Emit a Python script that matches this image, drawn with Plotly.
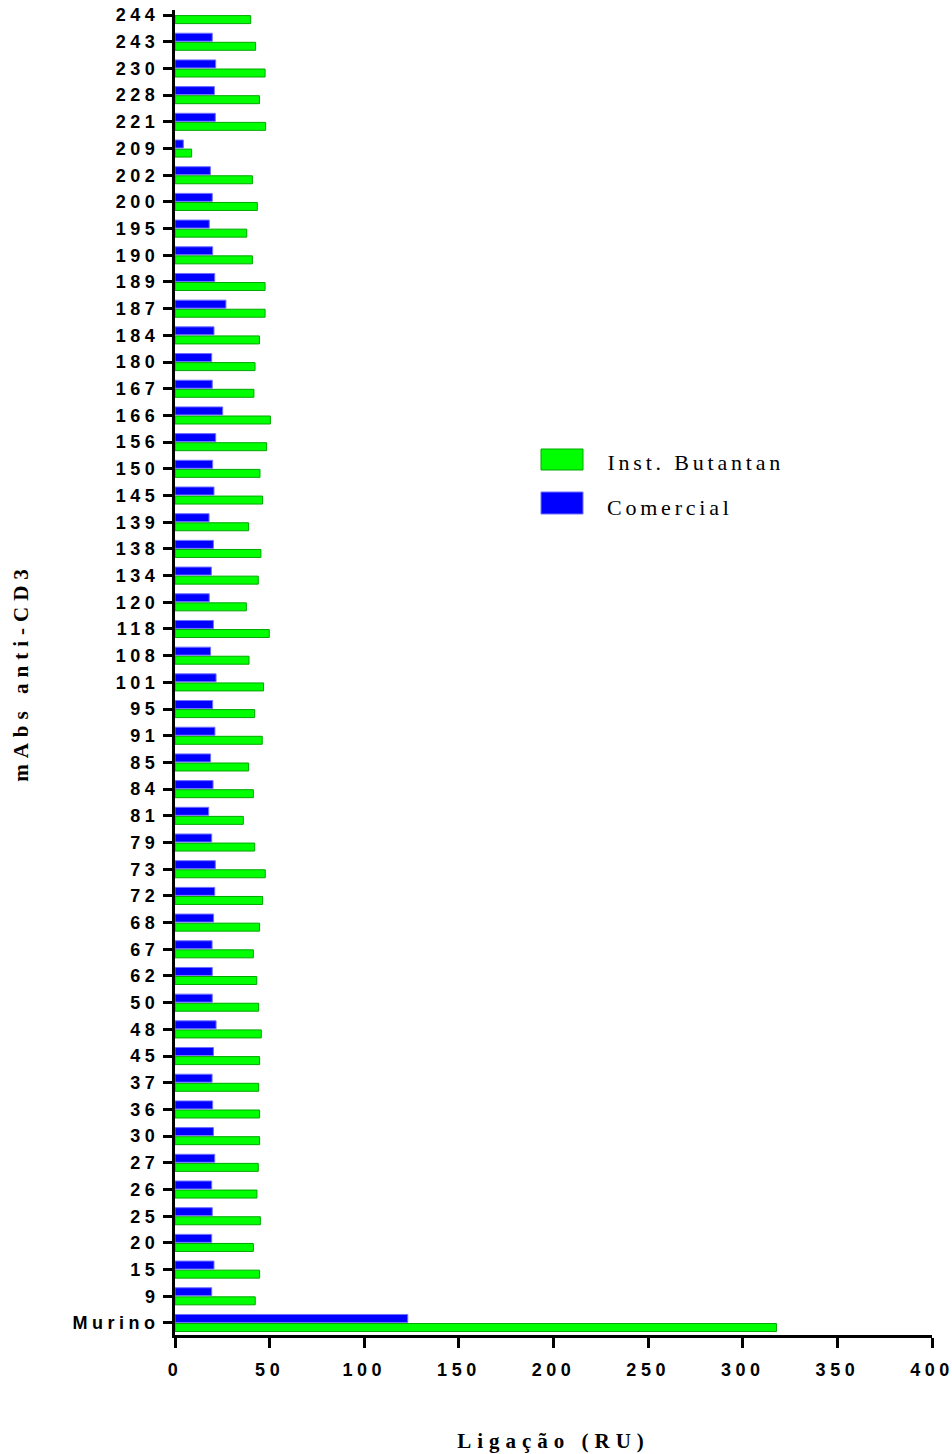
import json
import plotly.graph_objects as go

# mAbs anti-CD3 clones, bottom (Murino) to top
clones = ["Murino", "9", "15", "20", "25", "26", "27", "30", "36", "37", "45", "48", "50",
          "62", "67", "68", "72", "73", "79", "81", "84", "85", "91", "95", "101", "108",
          "118", "120", "134", "138", "139", "145", "150", "156", "166", "167", "180",
          "184", "187", "189", "190", "195", "200", "202", "209", "221", "228", "230",
          "243", "244"]

# Binding (RU) measured for each clone
butantan = [317.8, 42.4, 44.7, 41.4, 45.1, 43.3, 44.0, 44.7, 44.7, 44.2, 44.7, 45.6, 44.2,
            43.2, 41.4, 44.7, 46.3, 47.7, 42.1, 36.1, 41.4, 38.9, 46.1, 42.1, 46.8, 39.1,
            49.8, 37.7, 44.0, 45.4, 38.9, 46.3, 44.9, 48.4, 50.4, 41.7, 42.3,
            44.6, 47.6, 47.6, 40.9, 37.9, 43.5, 40.9, 8.8, 47.9, 44.6, 47.6,
            42.6, 40.0]
comercial = [123.0, 19.4, 20.6, 19.4, 19.7, 19.4, 21.0, 20.3, 19.9, 19.6, 20.3, 21.7, 19.7,
             19.7, 19.6, 20.4, 21.0, 21.3, 19.4, 17.8, 20.1, 18.8, 21.1, 19.9, 21.7, 18.8,
             20.3, 18.1, 19.2, 20.3, 18.0, 20.6, 19.9, 21.5, 25.2, 19.7, 19.4,
             20.6, 26.9, 21.0, 19.9, 18.1, 19.7, 18.7, 4.4, 21.3, 20.8, 21.5,
             19.7, None]

x_ticks = [0, 50, 100, 150, 200, 250, 300, 350, 400]
series_names = ["Inst. Butantan", "Comercial"]

GREEN, GREEN_EDGE = "#00FF00", "#00A800"
BLUE, BLUE_EDGE = "#0000FF", "#7070FF"

TICK_SPACING = 4.5   # letter-spacing (px) of tick labels
TITLE_SPACING = 6.0  # letter-spacing of axis titles
KEY_SPACING = 3.8    # letter-spacing of key labels

fig = go.Figure()
fig.add_trace(go.Bar(y=clones, x=butantan, orientation="h", name=series_names[0],
                     marker=dict(color=GREEN, line=dict(color=GREEN_EDGE, width=1)),
                     showlegend=False))
fig.add_trace(go.Bar(y=clones, x=comercial, orientation="h", name=series_names[1],
                     marker=dict(color=BLUE, line=dict(color=BLUE_EDGE, width=1)),
                     showlegend=False))

L, R, T, B = 175, 20, 10, 119
W, H = 952, 1454
plot_w, plot_h = W - L - R, H - T - B


def px_x(p):
    return (p - L) / plot_w


def px_y(p):
    return (H - B - p) / plot_h


# hand-drawn key: swatch + label per series
key = [(series_names[0], GREEN, GREEN_EDGE, 449, 470, 463),
       (series_names[1], BLUE, BLUE_EDGE, 492, 514, 507)]
shapes, annotations = [], []
for name, fill, edge, top, bot, mid in key:
    shapes.append(dict(type="rect", xref="paper", yref="paper",
                       x0=px_x(541), x1=px_x(583), y0=px_y(bot), y1=px_y(top),
                       fillcolor=fill, line=dict(color=edge, width=1)))
    # the label box is sized before letter-spacing is applied, so offset by half the extra width
    left = 605 + len(name) * KEY_SPACING / 2
    annotations.append(dict(text=name, xref="paper", yref="paper", x=px_x(left), y=px_y(mid),
                            xanchor="left", yanchor="middle", showarrow=False,
                            font=dict(family="Liberation Serif", size=22, color="#000")))

fig.update_layout(
    width=W, height=H,
    margin=dict(l=L, r=R, t=T, b=B, autoexpand=False),
    paper_bgcolor="white", plot_bgcolor="white",
    barmode="group", bargap=0.32, bargroupgap=0.12,
    shapes=shapes, annotations=annotations,
    showlegend=False,
)
fig.update_xaxes(
    range=[0, 400], tickvals=x_ticks, ticktext=[str(v) for v in x_ticks],
    showgrid=False, zeroline=False,
    showline=True, linecolor="black", linewidth=3,
    ticks="outside", ticklen=10, tickwidth=3, tickcolor="black",
    ticklabelstandoff=6,
    tickfont=dict(family="Liberation Sans", size=18, color="black", weight="bold"),
    title=dict(text="Ligação (RU)", standoff=55,
               font=dict(family="Liberation Serif", size=21, color="black", weight="bold")),
    automargin=False,
)
fig.update_yaxes(
    type="category", categoryorder="array", categoryarray=clones,
    range=[-0.45, 49.19],
    showgrid=False, zeroline=False,
    showline=True, linecolor="black", linewidth=3,
    ticks="outside", ticklen=9, tickwidth=3, tickcolor="black",
    tickfont=dict(family="Liberation Sans", size=18, color="black", weight="bold"),
    title=dict(text="mAbs anti-CD3", standoff=66,
               font=dict(family="Liberation Serif", size=21, color="black", weight="bold")),
    automargin=False,
)

css = (".ytick text, .xtick text {letter-spacing: %.1fpx;}"
       " .xtitle, .ytitle {letter-spacing: %.1fpx;}"
       " .annotation-text {letter-spacing: %.1fpx;}") % (TICK_SPACING, TITLE_SPACING, KEY_SPACING)
post = "var s=document.createElement('style');s.textContent=%s;document.head.appendChild(s);" % json.dumps(css)
fig.write_html("out.html", post_script=post)
